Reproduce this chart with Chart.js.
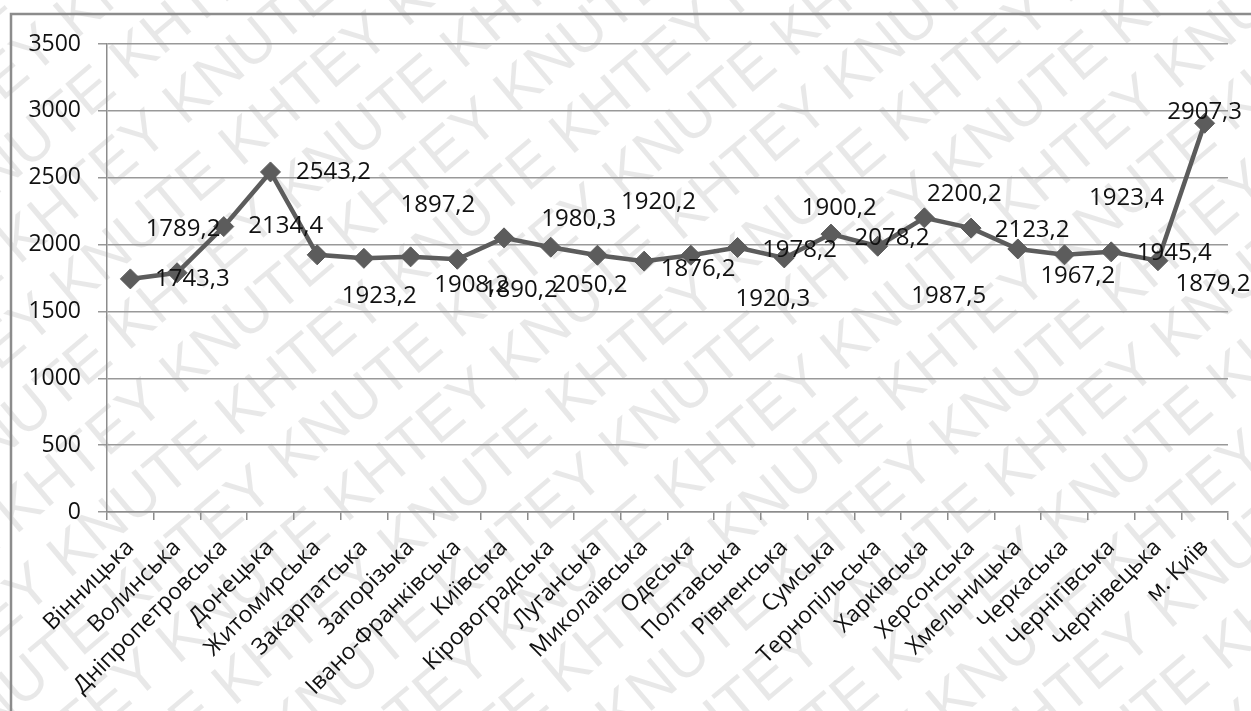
<!DOCTYPE html>
<html lang="uk">
<head>
<meta charset="utf-8">
<title>Регіони України</title>
<script src="https://cdn.jsdelivr.net/npm/chart.js@4/dist/chart.umd.min.js"></script>
<style>
  html, body { margin: 0; padding: 0; background: #ffffff; }
  #wrap { position: relative; width: 1251px; height: 711px; }
  canvas { display: block; }
</style>
</head>
<body>
<div id="wrap"><canvas id="chart" width="1251" height="711"></canvas></div>
<script>
// Regions (categories)
const regions = [
  'Вінницька', 'Волинська', 'Дніпропетровська', 'Донецька', 'Житомирська',
  'Закарпатська', 'Запорізька', 'Івано-Франківська', 'Київська', 'Кіровоградська',
  'Луганська', 'Миколаївська', 'Одеська', 'Полтавська', 'Рівненська', 'Сумська',
  'Тернопільська', 'Харківська', 'Херсонська', 'Хмельницька', 'Черкаська',
  'Чернігівська', 'Чернівецька', 'м. Київ'
];

// Values per region
const values = [
  1743.3, 1789.2, 2134.4, 2543.2, 1923.2, 1897.2, 1908.2, 1890.2, 2050.2, 1980.3,
  1920.2, 1876.2, 1920.3, 1978.2, 1900.2, 2078.2, 1987.5, 2200.2, 2123.2, 1967.2,
  1923.4, 1945.4, 1879.2, 2907.3
];

// Value axis ticks
const yTicks = [0, 500, 1000, 1500, 2000, 2500, 3000, 3500];

// Where each value label sits relative to its marker (px)
const labelDx = [62, 6, 62, 63, 62, 74, 61, 63, 86, 28, 61, 54, 82, 62, 55, 61, 71, 40, 61, 60, 62, 63, 55, 0];
const labelDy = [0, -44, 0, 0, 41, -53, 28, 31, 47, -28, -53, 8, 44, 3, -50, 4, 50, -24, 2, 27, -57, 1, 23, -11];

const FONT = '"Open Sans", "DejaVu Sans", sans-serif';
const INK = '#5c5c5c';

// Background, frame and the faint diagonal KHTEY KNUTE pattern
const backdrop = {
  id: 'backdrop',
  beforeDraw(chart) {
    const { ctx, width, height } = chart;
    ctx.save();
    ctx.fillStyle = '#ffffff';
    ctx.fillRect(0, 0, width, height);

    ctx.save();
    ctx.fillStyle = 'rgba(0,0,0,0.09)';
    ctx.font = '60px "Liberation Sans", Arial, sans-serif';
    ctx.textBaseline = 'middle';
    ctx.translate(width / 2, height / 2);
    ctx.rotate(-0.70);
    const word = 'KHTEY KNUTE ';
    const unit = ctx.measureText(word).width;
    const rowGap = 68;
    for (let r = -16; r <= 16; r++) {
      const shift = (r % 2 === 0) ? 0 : unit / 2;
      let x = -1400 + shift + r * 14;
      while (x < 1400) {
        ctx.fillText(word, x, r * rowGap);
        x += unit;
      }
    }
    ctx.restore();

    ctx.strokeStyle = '#8c8c8c';
    ctx.lineWidth = 2.5;
    ctx.strokeRect(11, 14, width + 20, height + 20);
    ctx.restore();
  }
};

// Value labels next to the markers
const valueLabels = {
  id: 'valueLabels',
  afterDatasetsDraw(chart) {
    const { ctx } = chart;
    const meta = chart.getDatasetMeta(0);
    ctx.save();
    ctx.fillStyle = '#111111';
    ctx.font = '24px ' + FONT;
    ctx.textAlign = 'center';
    ctx.textBaseline = 'middle';
    meta.data.forEach((pt, i) => {
      const txt = values[i].toFixed(1).replace('.', ',');
      ctx.fillText(txt, pt.x + labelDx[i], pt.y + labelDy[i]);
    });
    ctx.restore();
  }
};

new Chart(document.getElementById('chart'), {
  type: 'line',
  data: {
    labels: regions,
    datasets: [{
      data: values,
      borderColor: INK,
      backgroundColor: INK,
      borderWidth: 4.5,
      tension: 0,
      pointStyle: 'rectRot',
      pointRadius: 10,
      pointHoverRadius: 10,
      pointBackgroundColor: INK,
      pointBorderColor: INK,
      pointBorderWidth: 1
    }]
  },
  options: {
    responsive: false,
    animation: false,
    events: [],
    layout: { padding: { left: 0, top: 44, right: 23, bottom: 0 } },
    plugins: {
      legend: { display: false },
      tooltip: { enabled: false },
      title: { display: false }
    },
    scales: {
      x: {
        type: 'category',
        offset: true,
        grid: {
          offset: true,
          drawOnChartArea: false,
          drawTicks: true,
          tickLength: 8,
          color: '#8c8c8c',
          lineWidth: 1.5
        },
        border: { display: true, color: '#8c8c8c', width: 1.5 },
        ticks: {
          autoSkip: false,
          maxRotation: 45,
          minRotation: 45,
          padding: 14,
          color: '#111111',
          font: { family: FONT, size: 23 }
        },
        afterFit(scale) { scale.height = 199; }
      },
      y: {
        min: 0,
        max: 3500,
        afterBuildTicks(scale) { scale.ticks = yTicks.map(v => ({ value: v })); },
        grid: {
          color: '#999999',
          lineWidth: 1.5,
          drawTicks: true,
          tickLength: 9
        },
        border: { display: true, color: '#8c8c8c', width: 1.5 },
        ticks: {
          padding: 17,
          color: '#111111',
          font: { family: FONT, size: 23 },
          callback: (v) => String(v)
        },
        afterFit(scale) { scale.width = 107; }
      }
    }
  },
  plugins: [backdrop, valueLabels]
});
</script>
</body>
</html>
